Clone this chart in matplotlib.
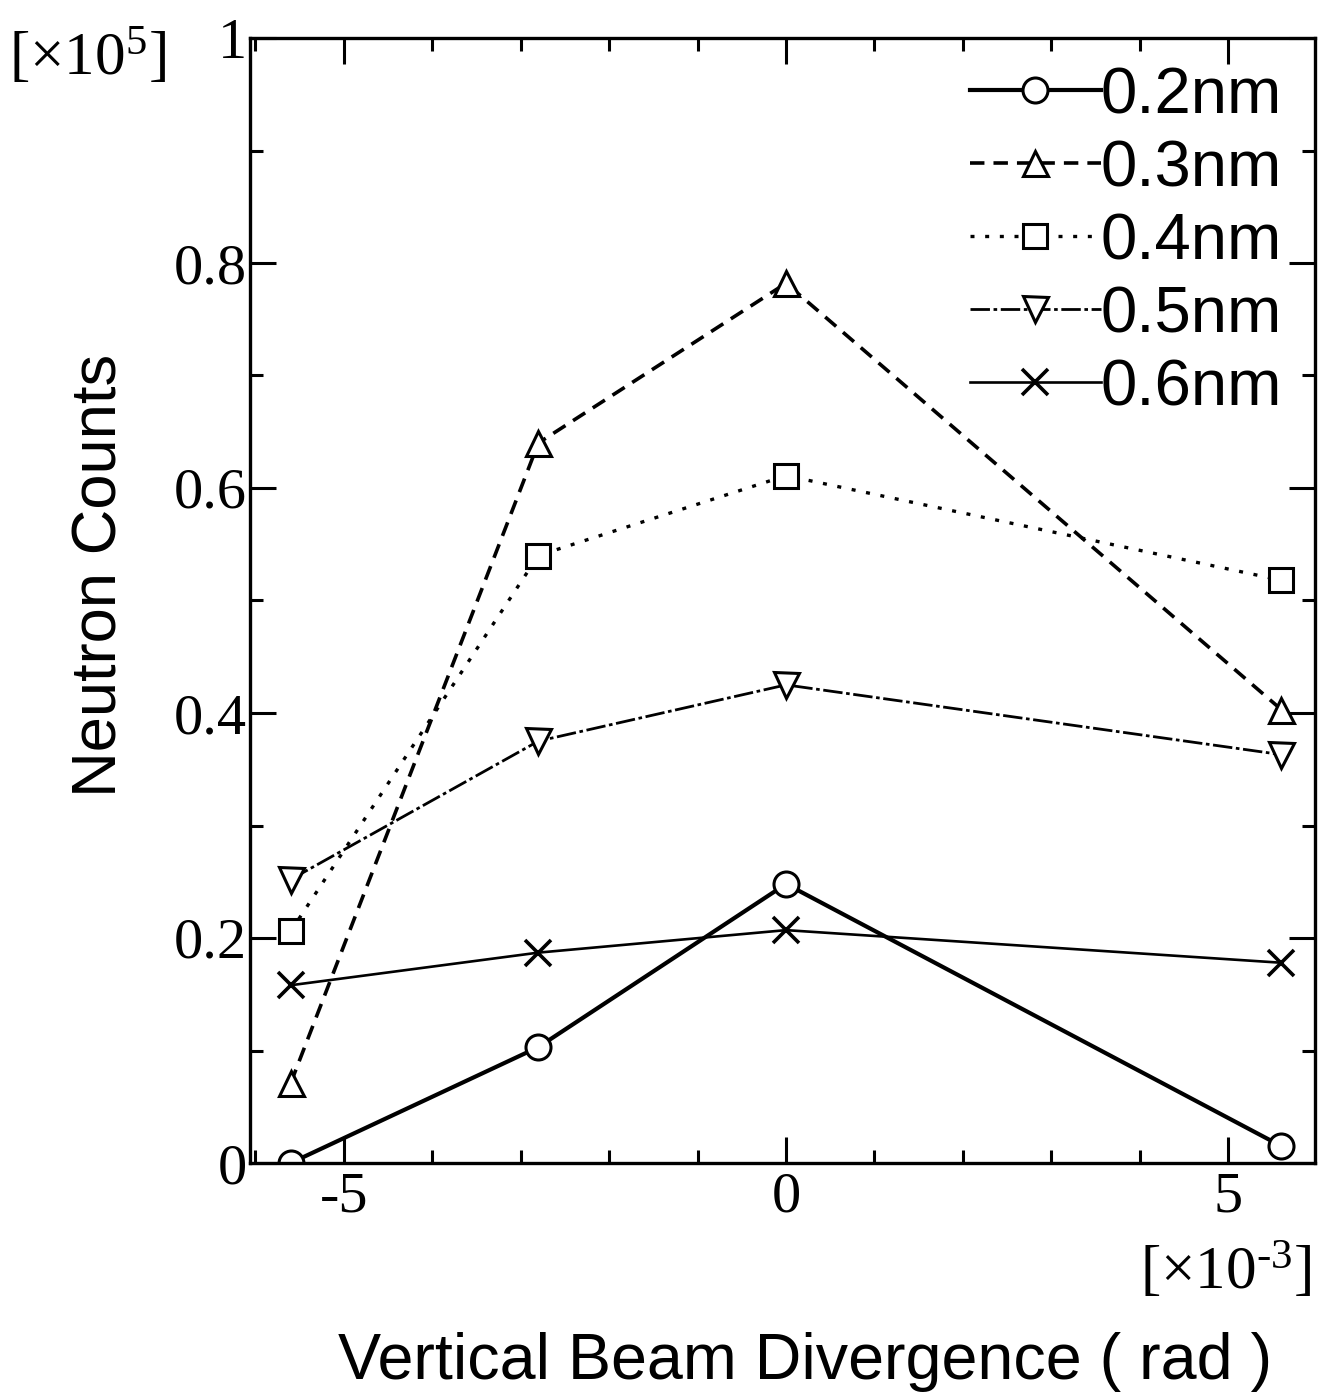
import matplotlib
matplotlib.use("Agg")
import matplotlib.pyplot as plt
from matplotlib.ticker import MultipleLocator

plt.rcParams['mathtext.fontset'] = 'custom'
plt.rcParams['mathtext.rm'] = 'Liberation Serif'
plt.rcParams['mathtext.it'] = 'Liberation Serif'

# Divergence in units of 1e-3 rad; counts in units of 1e5
divergence = [-5.6, -2.8, 0.0, 5.6]
counts_02 = [0.000, 0.103, 0.248, 0.015]
counts_03 = [0.071, 0.640, 0.782, 0.403]
counts_04 = [0.206, 0.540, 0.611, 0.518]
counts_05 = [0.252, 0.375, 0.425, 0.363]
counts_06 = [0.158, 0.187, 0.207, 0.178]
labels = ['0.2nm', '0.3nm', '0.4nm', '0.5nm', '0.6nm']

W, H = 1329, 1399
fig = plt.figure(figsize=(W / 100, H / 100), dpi=100)
ax = fig.add_axes([250 / W, 1 - 1163 / H, (1315 - 250) / W, (1163 - 38) / H])

mk = dict(markersize=18, markerfacecolor='white', markeredgecolor='black',
          markeredgewidth=2.2, color='black')

ax.plot(divergence, counts_02, marker='o', linestyle='-', linewidth=3.0, label=labels[0], **mk)
ax.plot(divergence, counts_03, marker='^', linestyle=(0, (4, 2.5)), linewidth=2.6, label=labels[1], **mk)
ax.plot(divergence, counts_04, marker='s', linestyle=(0, (1.2, 3.2)), linewidth=2.4, label=labels[2],
        **{**mk, 'markersize': 17})
ax.plot(divergence, counts_05, marker='v', linestyle=(0, (7, 1.3, 1.3, 1.3)), linewidth=2.0, label=labels[3], **mk)
ax.plot(divergence, counts_06, marker='x', linestyle='-', linewidth=1.9, label=labels[4],
        markersize=19, markeredgewidth=2.6, color='black')

ax.set_xlim(-6.06, 5.98)
ax.set_ylim(0, 1.0)

ax.xaxis.set_major_locator(MultipleLocator(5))
ax.xaxis.set_minor_locator(MultipleLocator(1))
ax.yaxis.set_major_locator(MultipleLocator(0.2))
ax.yaxis.set_minor_locator(MultipleLocator(0.1))

ax.tick_params(which='both', direction='in', top=True, right=True, width=2.2, color='black')
ax.tick_params(which='major', length=19)
ax.tick_params(which='minor', length=9.5)
ax.tick_params(axis='y', which='major', pad=2)
ax.tick_params(axis='x', which='major', pad=6)

for s in ax.spines.values():
    s.set_linewidth(2.4)

ax.set_xticks([-5, 0, 5])
ax.set_xticklabels(['-5', '0', '5'], fontfamily='Liberation Serif', fontsize=42)
ax.set_yticks([0, 0.2, 0.4, 0.6, 0.8, 1.0])
ax.set_yticklabels(['0', '0.2', '0.4', '0.6', '0.8', '1'], fontfamily='Liberation Serif', fontsize=42)

leg = ax.legend(loc='upper right', frameon=False, prop={'family': 'Liberation Sans', 'size': 47},
                handlelength=2.0, handletextpad=0.0, labelspacing=0.2,
                borderaxespad=0.0, borderpad=0.0,
                bbox_to_anchor=((1282 - 250) / 1065, 0.975), markerscale=1.0)

fig.text(100 / W, 1 - 575 / H, 'Neutron Counts', rotation=90, ha='center', va='center',
         fontfamily='Liberation Sans', fontsize=45.5)
fig.text(805 / W, 1 - 1362 / H, 'Vertical Beam Divergence ( rad )', ha='center', va='center',
         fontfamily='Liberation Sans', fontsize=46.5)
fig.text(88 / W, 1 - 58 / H, '[×10$^{5}$]', ha='center', va='center',
         fontfamily='Liberation Serif', fontsize=44)
fig.text(1226 / W, 1 - 1272 / H, '[×10$^{\\text{-}3}$]', ha='center', va='center',
         fontfamily='Liberation Serif', fontsize=44)

fig.savefig('out.png', dpi=100, facecolor='white')
